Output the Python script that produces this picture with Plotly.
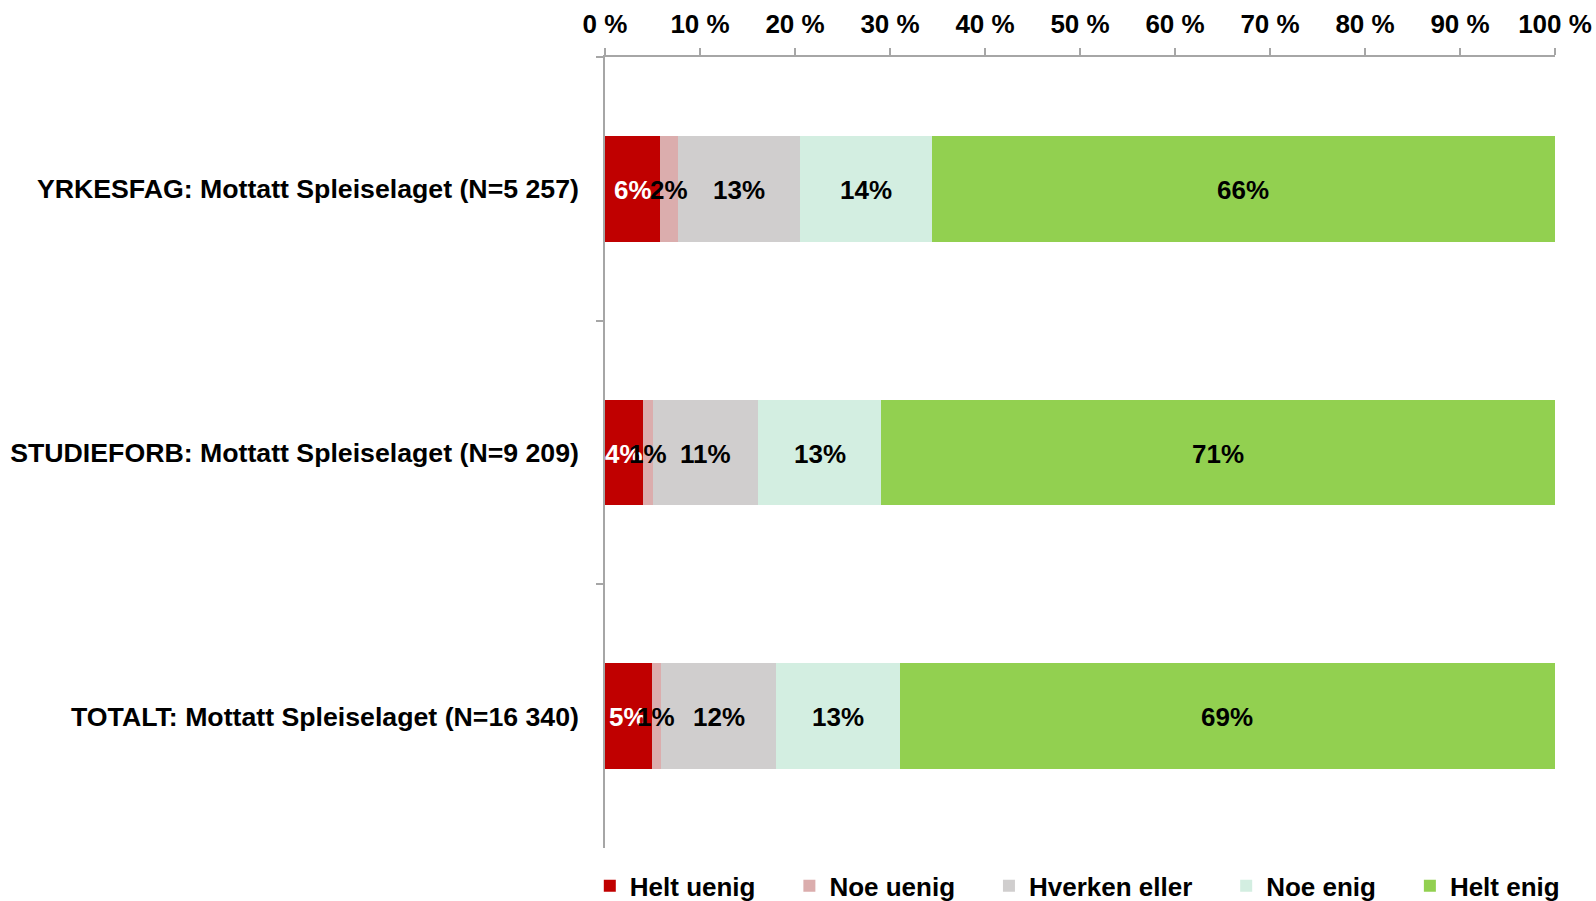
import plotly.graph_objects as go
import numpy as np

categories = [
    "YRKESFAG: Mottatt Spleiselaget (N=5 257)",
    "STUDIEFORB: Mottatt Spleiselaget (N=9 209)",
    "TOTALT: Mottatt Spleiselaget (N=16 340)",
]
series_names = ["Helt uenig", "Noe uenig", "Hverken eller", "Noe enig", "Helt enig"]
helt_uenig = [5.8, 4.0, 4.9]
noe_uenig = [1.9, 1.0, 1.0]
hverken = [12.8, 11.1, 12.1]
noe_enig = [13.9, 13.0, 13.0]
helt_enig = [65.6, 70.9, 69.0]
series_values = [helt_uenig, noe_uenig, hverken, noe_enig, helt_enig]
colors = ["#C00000", "#DBADAD", "#D0CECE", "#D3EEE1", "#92D050"]
text_colors = ["white", "black", "black", "black", "black"]
tick_vals = [0, 10, 20, 30, 40, 50, 60, 70, 80, 90, 100]
tick_text = ["0 %", "10 %", "20 %", "30 %", "40 %", "50 %", "60 %", "70 %", "80 %", "90 %", "100 %"]

FONT = "Liberation Sans, Arial, sans-serif"
FS = 26
PAD = "\u00a0" * 4  # spacing between legend entries

fig = go.Figure()
for i, (name, vals, col) in enumerate(zip(series_names, series_values, colors)):
    fig.add_trace(go.Bar(
        y=categories, x=vals, name=name + (PAD if i < len(series_names) - 1 else ""),
        orientation="h",
        marker=dict(color=col, line=dict(width=0)),
        hovertemplate=name + ": %{x}%<extra></extra>",
    ))

# value labels on top of all bars, centred in each segment
base = np.zeros(len(categories))
for vals, tc in zip(series_values, text_colors):
    v = np.array(vals)
    mid = base + v / 2
    for cat, xm, val in zip(categories, mid, v):
        fig.add_annotation(
            x=xm, y=cat, xref="x", yref="y", text=f"{val:.0f}%",
            showarrow=False, yshift=-1,
            font=dict(color=tc, size=FS, family=FONT, weight="bold"),
        )
    base = base + v

fig.update_layout(
    barmode="stack", bargap=0.6,
    width=1596, height=901,
    margin=dict(l=605, r=41, t=57, b=53, autoexpand=False),
    paper_bgcolor="white", plot_bgcolor="white",
    font=dict(family=FONT, size=FS, color="black", weight="bold"),
    showlegend=True,
    legend=dict(orientation="h", x=-0.016, xanchor="left", y=-0.048, yanchor="middle",
                font=dict(size=FS, family=FONT, weight="bold"),
                traceorder="normal", itemwidth=30, tracegroupgap=0),
)
fig.update_xaxes(
    side="top", range=[0, 100], tickvals=tick_vals, ticktext=tick_text,
    showgrid=False, zeroline=False, showline=True, linecolor="#A6A6A6", linewidth=1.5,
    ticks="outside", ticklen=7, tickcolor="#A6A6A6", tickwidth=1.5,
    tickfont=dict(size=FS, family=FONT, weight="bold", color="black"),
    ticklabelstandoff=5, automargin=False, ticklabeloverflow="allow",
)
fig.update_yaxes(
    autorange="reversed", showgrid=False, showline=True, linecolor="#A6A6A6", linewidth=1.5,
    ticks="outside", ticklen=7, tickcolor="#A6A6A6", tickwidth=1.5, tickson="boundaries",
    tickfont=dict(size=26.7, family=FONT, weight="bold", color="black"),
    ticklabelstandoff=19, automargin=False,
)

fig.write_html("out.html", config={"displayModeBar": False},
               post_script="document.body.style.margin='0px';")
